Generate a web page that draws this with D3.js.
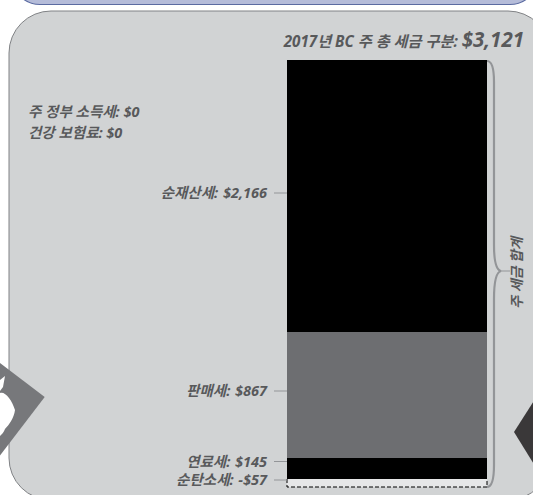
<!DOCTYPE html>
<html>
<head>
<meta charset="utf-8">
<script src="https://cdn.jsdelivr.net/npm/d3@7"></script>
<style>
  html, body { margin: 0; padding: 0; background: #fff; overflow: hidden; }
  text { font-family: "Open Sans", "Noto Sans CJK KR", sans-serif; font-weight: 700; font-style: italic; fill: #58595b; }
</style>
</head>
<body>
<div id="chart"></div>
<script>
// tax pieces, bottom of the stack first
var taxNames = ["연료세", "판매세", "순재산세"];
var taxValues = [145, 867, 2166];
var taxColors = ["#000000", "#6d6e71", "#000000"];
var carbonName = "순탄소세";
var carbonValue = -57;
var zeroNames = ["주 정부 소득세", "건강 보험료"];
var zeroValues = [0, 0];
var totalTitle = "2017년 BC 주 총 세금 구분: ";
var totalValue = 3121;
var braceLabel = "주 세금 합계";

var width = 533, height = 495;

var svg = d3.select("#chart")
    .append("svg")
    .attr("width", width)
    .attr("height", height);

function money(v) {
    return (v < 0 ? "-$" : "$") + d3.format(",")(Math.abs(v));
}

// running totals of the stack
var stack = [];
var sum = 0;
taxValues.forEach(function (v, i) {
    stack.push({ name: taxNames[i], value: v, y0: sum, y1: sum + v, color: taxColors[i] });
    sum += v;
});

// the picture does not keep one $/px ratio, so the scale has a knot at each boundary
var y = d3.scaleLinear()
    .domain([carbonValue, 0, stack[0].y1, stack[1].y1, stack[2].y1])
    .range([487, 479, 458, 332, 60]);
var barLeft = 287, barRight = 487;

// top blue panel, mostly off the page
svg.append("rect")
    .attr("x", 12).attr("y", -60)
    .attr("width", 526).attr("height", 64.5)
    .attr("rx", 28)
    .attr("fill", "#b5bcd9")
    .attr("stroke", "#5b6ba1")
    .attr("stroke-width", 1.2);

// grey panel
svg.append("rect")
    .attr("x", 9).attr("y", 11)
    .attr("width", 541).attr("height", 489)
    .attr("rx", 42)
    .attr("fill", "#d1d3d4")
    .attr("stroke", "#808285")
    .attr("stroke-width", 1);

// page-turn arrows
svg.append("path")
    .attr("d", "M44.7,397 L-2,361.5 L-2,458 Z")
    .attr("fill", "#77787b");
svg.append("path")
    .attr("d", "M0,380 L5,376 L3,387 L0,391 Z M0,393 C5,391 12,400 15,410 C14,418 9,425 5,429 C4,432 2,434 0,436 Z")
    .attr("fill", "#ffffff");
svg.append("path")
    .attr("d", "M514,432 L535,399 L535,466 Z")
    .attr("fill", "#3a3839");

// bars
svg.append("g")
    .selectAll("rect")
    .data(stack)
    .enter()
    .append("rect")
    .attr("x", barLeft)
    .attr("width", barRight - barLeft)
    .attr("y", function (d) { return y(d.y1); })
    .attr("height", function (d) { return y(d.y0) - y(d.y1); })
    .attr("fill", function (d) { return d.color; });

// negative piece
svg.append("rect")
    .attr("x", barLeft)
    .attr("y", y(0))
    .attr("width", barRight - barLeft)
    .attr("height", y(carbonValue) - y(0))
    .attr("fill", "#e6e7e8");
svg.append("path")
    .attr("d", "M" + barLeft + "," + y(0) + " V" + y(carbonValue) + " H" + barRight + " V" + y(0))
    .attr("fill", "none")
    .attr("stroke", "#000")
    .attr("stroke-width", 1)
    .attr("stroke-dasharray", "4,2");

// value labels and leader lines, rows are not centred on their pieces in the picture
var labelRows = [
    { text: stack[2].name + ": " + money(stack[2].value), at: 193 },
    { text: stack[1].name + ": " + money(stack[1].value), at: 391 },
    { text: stack[0].name + ": " + money(stack[0].value), at: 461.5 },
    { text: carbonName + ": " + money(carbonValue), at: 480 }
];

labelRows.forEach(function (d) {
    svg.append("text")
        .attr("x", 267).attr("y", d.at + 5)
        .attr("text-anchor", "end")
        .attr("font-size", 14.5)
        .attr("word-spacing", 1)
        .text(d.text);
    svg.append("line")
        .attr("x1", 274).attr("x2", 287)
        .attr("y1", d.at).attr("y2", d.at)
        .attr("stroke", "#939598")
        .attr("stroke-width", 1);
});

// zero rows on the left
zeroNames.forEach(function (n, i) {
    svg.append("text")
        .attr("x", 28)
        .attr("y", 117 + i * 21)
        .attr("font-size", 14.5)
        .text(n + ": " + money(zeroValues[i]));
});

// title
var title = svg.append("text")
    .attr("x", 524).attr("y", 46.5)
    .attr("text-anchor", "end")
    .attr("font-size", 15.2);
title.append("tspan").text(totalTitle);
title.append("tspan").attr("font-size", 20.5).text(money(totalValue));

// brace on the right of the bar
svg.append("path")
    .attr("d", "M487,61 C492,61 494,68 494,82 L494,245 C494,262 496,270 501,271 C496,272 494,282 494,299 L494,465 C494,479 492,487 487,487")
    .attr("fill", "none")
    .attr("stroke", "#939598")
    .attr("stroke-width", 2.2);
svg.append("line")
    .attr("x1", 500).attr("x2", 510)
    .attr("y1", 271).attr("y2", 271)
    .attr("stroke", "#939598")
    .attr("stroke-width", 1);
svg.append("text")
    .attr("transform", "translate(522,273) rotate(-90)")
    .attr("text-anchor", "middle")
    .attr("font-size", 14)
    .text(braceLabel);
</script>
</body>
</html>
